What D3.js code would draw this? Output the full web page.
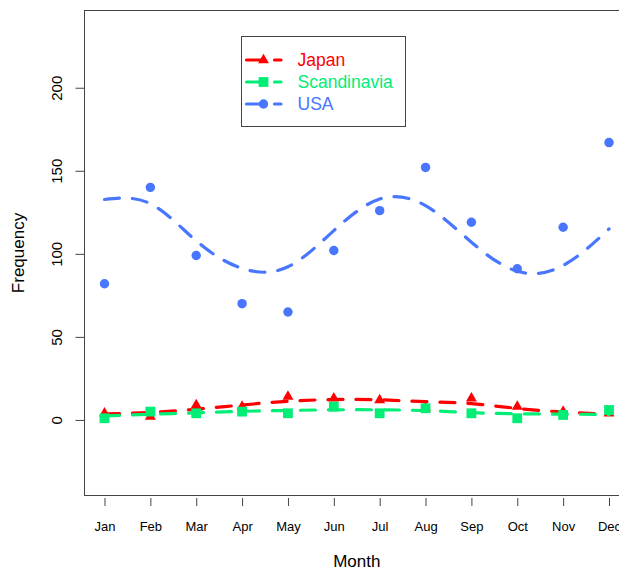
<!DOCTYPE html>
<html>
<head>
<meta charset="utf-8">
<script src="https://cdn.jsdelivr.net/npm/d3@7"></script>
<style>
body { margin: 0; background: #fff; }
text { font-family: "Liberation Sans", Arial, Helvetica, sans-serif; }
</style>
</head>
<body>
<div class="chart"></div>
<script>
// Data
const months = ["Jan", "Feb", "Mar", "Apr", "May", "Jun", "Jul", "Aug", "Sep", "Oct", "Nov", "Dec"];
const japan       = [4, 2, 9, 8, 14, 13, 12, 7, 13, 8, 5, 4];
const scandinavia = [1, 5, 4, 5, 4, 8, 4, 7, 4, 1, 3, 6];
const usa         = [82, 140, 99, 70, 65, 102, 126, 152, 119, 91, 116, 167];
// fitted curves (dashed), read at each month
const japanFit       = [3.6, 4.5, 6.4, 9.0, 11.2, 12.3, 12.1, 11.0, 9.8, 6.9, 4.8, 3.3];
const scandinaviaFit = [2.4, 3.4, 4.3, 5.2, 5.7, 6.1, 6.1, 5.6, 4.4, 3.7, 3.5, 3.2];
const usaFit         = [132.7, 130.2, 107.8, 91.2, 92.2, 114, 133, 129, 107, 89.5, 93, 115];
const yTicks = [0, 50, 100, 150, 200];
const seriesNames = ["Japan", "Scandinavia", "USA"];

const width = 619, height = 568;
const box = { left: 84.5, top: 10.5, right: 629, bottom: 495.5 };

const series = [
    { name: seriesNames[0], values: japan, fit: japanFit, color: "#ff0000", symbol: d3.symbolTriangle, size: 52 },
    { name: seriesNames[1], values: scandinavia, fit: scandinaviaFit, color: "#00ee76", symbol: d3.symbolSquare, size: 96 },
    { name: seriesNames[2], values: usa, fit: usaFit, color: "#4876ff", symbol: d3.symbolCircle, size: 70 }
];

const x = d3.scaleLinear().domain([0.564, 12.436]).range([box.left, box.right]);
const y = d3.scaleLinear().domain([-45.5, 246.5]).range([box.bottom, box.top]);

const svg = d3.select(".chart").append("svg")
    .attr("width", width)
    .attr("height", height);

// plot frame
svg.append("rect")
    .attr("x", box.left)
    .attr("y", box.top)
    .attr("width", box.right - box.left)
    .attr("height", box.bottom - box.top)
    .attr("fill", "none")
    .attr("stroke", "#444")
    .attr("stroke-width", 1);

// y axis
const yAxis = svg.append("g")
    .attr("transform", "translate(" + box.left + ",0)")
    .call(d3.axisLeft(y).tickValues(yTicks).tickSize(9).tickFormat(d3.format("d")));
yAxis.select(".domain").remove();
yAxis.selectAll(".tick line").attr("stroke", "#444");
yAxis.selectAll(".tick text")
    .attr("transform", "rotate(-90)")
    .attr("x", 0)
    .attr("y", -22.5)
    .attr("dy", 0)
    .style("text-anchor", "middle")
    .style("font-size", "15px")
    .attr("fill", "#000");

// x axis
const xAxis = svg.append("g")
    .attr("transform", "translate(0," + (box.bottom + 2.5) + ")")
    .call(d3.axisBottom(x).tickValues(d3.range(1, 13)).tickSize(8).tickFormat(d => months[d - 1]));
xAxis.select(".domain").remove();
xAxis.selectAll(".tick line").attr("stroke", "#444");
xAxis.selectAll(".tick text")
    .attr("y", 32.5)
    .attr("dy", 0)
    .style("font-size", "13px")
    .attr("fill", "#000");

// axis titles
svg.append("text")
    .attr("x", (box.left + box.right) / 2)
    .attr("y", 567)
    .style("text-anchor", "middle")
    .style("font-size", "17px")
    .text("Month");

svg.append("text")
    .attr("transform", "translate(24," + (box.top + box.bottom) / 2 + ") rotate(-90)")
    .style("text-anchor", "middle")
    .style("font-size", "17px")
    .text("Frequency");

// series: points then dashed fit
const line = d3.line()
    .x((d, i) => x(i + 1))
    .y(d => y(d))
    .curve(d3.curveNatural);

series.forEach(s => {
    svg.append("g").selectAll("path")
        .data(s.values)
        .enter().append("path")
        .attr("transform", (d, i) => "translate(" + x(i + 1) + "," + y(d) + ")")
        .attr("d", d3.symbol().type(s.symbol).size(s.size))
        .attr("fill", s.color);

    svg.append("path")
        .datum(s.fit)
        .attr("d", line)
        .attr("fill", "none")
        .attr("stroke", s.color)
        .attr("stroke-width", 3.2)
        .attr("stroke-linecap", "round")
        .attr("stroke-dasharray", "15,13");
});

// legend
const legend = svg.append("g");
legend.append("rect")
    .attr("x", 241.5)
    .attr("y", 36.5)
    .attr("width", 164)
    .attr("height", 90)
    .attr("fill", "#fff")
    .attr("stroke", "#444");

const entry = legend.selectAll(".entry")
    .data(series)
    .enter().append("g")
    .attr("class", "entry")
    .attr("transform", (d, i) => "translate(0," + [60, 82, 104][i] + ")");

entry.append("line")
    .attr("x1", 246.5)
    .attr("x2", 281)
    .attr("stroke", d => d.color)
    .attr("stroke-width", 3.2)
    .attr("stroke-linecap", "round")
    .attr("stroke-dasharray", "15,13");

entry.append("path")
    .attr("transform", "translate(263.5,0)")
    .attr("d", d => d3.symbol().type(d.symbol).size(d.size)())
    .attr("fill", d => d.color);

entry.append("text")
    .attr("x", 297.5)
    .attr("dy", "0.36em")
    .style("font-size", "17.5px")
    .attr("fill", d => d.color)
    .text(d => d.name);
</script>
</body>
</html>
